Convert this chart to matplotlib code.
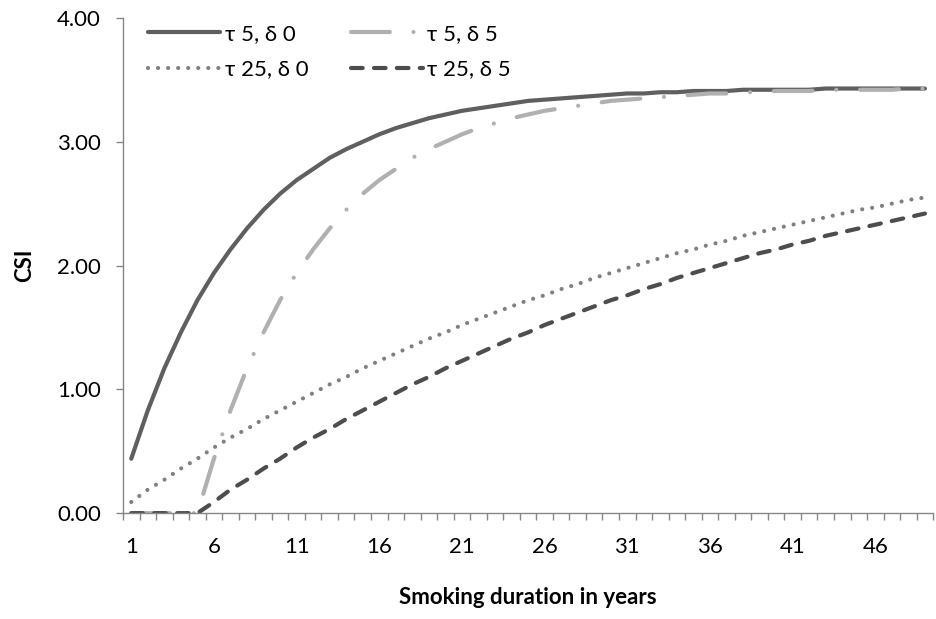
import numpy as np
import matplotlib.pyplot as plt

plt.rcParams['font.family'] = ['Lato', 'DejaVu Sans']

years = np.arange(1, 50)

# CSI values, one per year (1..49)
tau5_delta0 = [0.44, 0.83, 1.17, 1.46, 1.72, 1.94, 2.13, 2.30, 2.45, 2.58,
               2.69, 2.78, 2.87, 2.94, 3.00, 3.06, 3.11, 3.15, 3.19, 3.22,
               3.25, 3.27, 3.29, 3.31, 3.33, 3.34, 3.35, 3.36, 3.37, 3.38,
               3.39, 3.39, 3.40, 3.40, 3.41, 3.41, 3.41, 3.42, 3.42, 3.42,
               3.42, 3.42, 3.43, 3.43, 3.43, 3.43, 3.43, 3.43, 3.43]
tau5_delta5 = [0.00, 0.00, 0.00, 0.00, 0.00, 0.44, 0.83, 1.17, 1.46, 1.72,
               1.94, 2.13, 2.30, 2.45, 2.58, 2.69, 2.78, 2.87, 2.94, 3.00,
               3.06, 3.11, 3.15, 3.19, 3.22, 3.25, 3.27, 3.29, 3.31, 3.33,
               3.34, 3.35, 3.36, 3.37, 3.38, 3.39, 3.39, 3.40, 3.40, 3.41,
               3.41, 3.41, 3.42, 3.42, 3.42, 3.42, 3.42, 3.43, 3.43]
tau25_delta0 = [0.09, 0.19, 0.27, 0.36, 0.44, 0.53, 0.61, 0.68, 0.76, 0.83,
                0.90, 0.97, 1.04, 1.10, 1.17, 1.23, 1.29, 1.35, 1.41, 1.46,
                1.52, 1.57, 1.62, 1.67, 1.72, 1.76, 1.81, 1.85, 1.90, 1.94,
                1.98, 2.02, 2.06, 2.10, 2.13, 2.17, 2.20, 2.24, 2.27, 2.30,
                2.33, 2.36, 2.39, 2.42, 2.45, 2.47, 2.50, 2.53, 2.55]
tau25_delta5 = [0.00, 0.00, 0.00, 0.00, 0.00, 0.09, 0.19, 0.27, 0.36, 0.44,
                0.53, 0.61, 0.68, 0.76, 0.83, 0.90, 0.97, 1.04, 1.10, 1.17,
                1.23, 1.29, 1.35, 1.41, 1.46, 1.52, 1.57, 1.62, 1.67, 1.72,
                1.76, 1.81, 1.85, 1.90, 1.94, 1.98, 2.02, 2.06, 2.10, 2.13,
                2.17, 2.20, 2.24, 2.27, 2.30, 2.33, 2.36, 2.39, 2.42]

fig = plt.figure(figsize=(9.36, 6.19), dpi=100)
ax = fig.add_axes([0.1314, 0.171, 0.8656, 0.80])

lw = 3
l1, = ax.plot(years, tau5_delta0, color='#5f5f5f', lw=lw,
              solid_capstyle='round', label='τ 5, δ 0')
l2, = ax.plot(years, tau5_delta5, color='#b0b0b0', lw=lw,
              dashes=(9.3, 5.7, 0.01, 5.7), dash_capstyle='round',
              label='τ 5, δ 5')
l3, = ax.plot(years, tau25_delta0, color='#808080', lw=lw,
              dashes=(0.01, 2.4), dash_capstyle='round', label='τ 25, δ 0')
l4, = ax.plot(years, tau25_delta5, color='#4d4d4d', lw=lw,
              dashes=(2.8, 2.7), dash_capstyle='round', label='τ 25, δ 5')

ax.set_xlim(0.5, 49.5)
ax.set_ylim(0, 4)
ax.set_xticks(np.arange(1, 50, 5))
ax.set_xticks(np.arange(0.5, 50, 1), minor=True)
ax.tick_params(axis='x', which='major', length=0, pad=17, labelsize=16)
ax.tick_params(axis='x', which='minor', length=5, width=1, color='#868686',
               direction='out')
ax.set_yticks(np.arange(0, 4.01, 1))
ax.set_yticklabels([f'{v:.2f}' for v in np.arange(0, 4.01, 1)])
ax.tick_params(axis='y', length=5, width=1, color='#868686', labelsize=16,
               pad=11)

for s in ['top', 'right']:
    ax.spines[s].set_visible(False)
for s in ['left', 'bottom']:
    ax.spines[s].set_color('#868686')
    ax.spines[s].set_linewidth(1)

ax.set_ylabel('CSI', fontsize=16, fontweight='bold', labelpad=16)
ax.set_xlabel('Smoking duration in years', fontsize=16, fontweight='bold',
              labelpad=22)

# legend fills column-wise, so order handles to get the row layout
ax.legend([l1, l3, l2, l4], [l1.get_label(), l3.get_label(),
                             l2.get_label(), l4.get_label()],
          loc='upper left', ncol=2, frameon=False, fontsize=16,
          handlelength=3.25, handletextpad=0.2, columnspacing=1.9,
          labelspacing=0.7, borderpad=0, borderaxespad=0,
          bbox_to_anchor=(0.031, 0.988))

fig.savefig('out.png', dpi=100)
